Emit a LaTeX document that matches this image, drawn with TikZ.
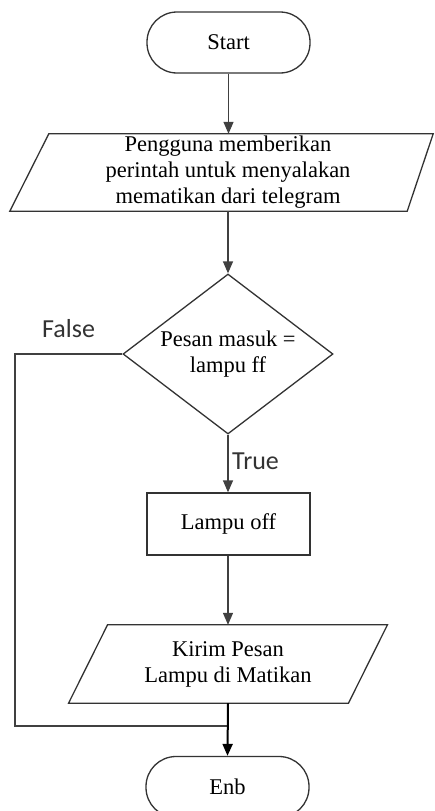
\documentclass[tikz,border=0pt]{standalone}
\usepackage{fontspec}
\setmainfont{Liberation Serif}
\newfontfamily\labelfont{Carlito}
\usetikzlibrary{shapes.geometric,arrows.meta}

\begin{document}
\begin{tikzpicture}[x=1pt,y=-1pt,
  every node/.style={font=\fontsize{22.5}{26}\selectfont},
  line/.style={draw=black!75, line width=1.3pt},
  arr/.style={line, -{Triangle[length=12pt,width=10pt]}},
  outline/.style={draw=black!80, line width=1.3pt},
  terminal/.style={outline, rectangle, rounded corners=30pt,
    minimum width=163pt, minimum height=61pt, inner sep=0pt},
  process/.style={outline, rectangle, minimum width=163pt,
    minimum height=62pt, inner sep=0pt},
  decision/.style={outline, diamond, aspect=1.3, inner sep=0pt,
    minimum width=210pt, minimum height=160pt, align=center},
  iobox/.style={rectangle, inner sep=0pt, align=center},
  branch/.style={font=\labelfont\fontsize{26}{30}\selectfont, text=black!80,
    anchor=base west, inner sep=0pt}
]
  % page area
  \fill[white] (0,0) rectangle (435,811);
  \useasboundingbox (0,0) rectangle (435,811);

  % start terminal
  \node[terminal] (start) at (228.5,42.5) {Start};

  % input: command from telegram
  \node[iobox, minimum width=390pt, minimum height=77pt] (in1) at (228,172.5)
    {Pengguna memberikan\\perintah untuk menyalakan\\mematikan dari telegram};
  \draw[outline] ([xshift=16pt]in1.north west) -- ([xshift=10pt]in1.north east)
    -- ([xshift=-16pt]in1.south east) -- ([xshift=-23pt]in1.south west) -- cycle;

  % decision
  \node[decision] (dec) at (228,354) {Pesan masuk =\\lampu ff};

  % process
  \node[process] (off) at (228.5,524) {Lampu off};

  % output: message to user
  \node[iobox, minimum width=279.5pt, minimum height=78pt] (out) at (228,664)
    {Kirim Pesan\\Lampu di Matikan};
  \draw[outline] ([xshift=19.5pt]out.north west) -- ([xshift=19.5pt]out.north east)
    -- ([xshift=-19.5pt]out.south east) -- ([xshift=-19.5pt]out.south west) -- cycle;

  % end terminal
  \node[terminal] (fin) at (227.5,787) {Enb};

  % flow
  \draw[arr] (start.south) -- (start.south |- in1.north);
  \draw[arr] (dec.north |- in1.south) -- (dec.north);
  \draw[arr] (dec.south) -- (off.north -| dec.south);
  \draw[arr] (off.south -| out.south) -- (out.north);

  \coordinate (join) at (228,726);
  \coordinate (corner) at (15,726);
  \draw[line] (dec.west) -| (corner) -- (join);
  \draw[line, draw=black, line width=2pt, -{Triangle[length=12pt,width=10pt]}]
    (out.south) -- (fin.north);

  % branch labels
  \node[branch] (flabel) at (42,337) {False};
  \node[branch] (tlabel) at (232,469) {True};
\end{tikzpicture}
\end{document}
